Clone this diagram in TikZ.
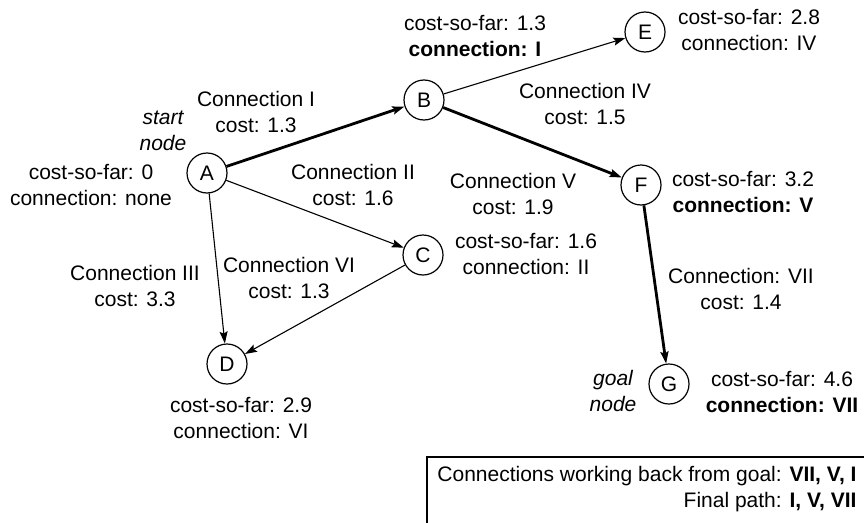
\documentclass[tikz,border=0pt]{standalone}
\usepackage{fontspec}
\setmainfont{Liberation Sans}
\usetikzlibrary{arrows.meta}

\begin{document}
\begin{tikzpicture}[x=1pt, y=-1pt, >={Stealth[length=12pt, width=8pt, inset=2pt]},
        state/.style={draw, circle, line width=1.2pt, minimum size=40pt, inner sep=0pt, font=\fontsize{21}{26}\selectfont},
        info/.style={align=center, font=\fontsize{21}{26}\selectfont},
        remark/.style={align=center, font=\fontsize{21}{26}\selectfont\itshape},
        link/.style={->, line width=1.1pt},
        bestlink/.style={->, line width=2.8pt}]
        % --- 1. Frame (pixel grid of the page) ---
        \useasboundingbox (0,0) rectangle (864,522);

        % --- 2. States ---
        \node[state] (A) at (207,173) {A};
        \node[state] (B) at (424,100) {B};
        \node[state] (C) at (423,255) {C};
        \node[state] (D) at (227,364) {D};
        \node[state] (E) at (645,32) {E};
        \node[state] (F) at (641,185) {F};
        \node[state] (G) at (669,384) {G};

        % --- 3. Connections ---
        \draw[bestlink] (A) -- (B);
        \draw[link] (A) -- (C);
        \draw[link] (A) -- (D);
        \draw[link] (B) -- (E);
        \draw[bestlink] (B) -- (F);
        \draw[link] (C) -- (D);
        \draw[bestlink] (F) -- (G);

        % --- 4. Connection labels ---
        \node[info] (labelI) at (256,112) {Connection I\\cost: 1.3};
        \node[info] (labelII) at (353,184.5) {Connection II\\cost: 1.6};
        \node[info] (labelIII) at (135,286) {Connection III\\cost: 3.3};
        \node[info] (labelIV) at (585,104) {Connection IV\\cost: 1.5};
        \node[info] (labelV) at (513,194) {Connection V\\cost: 1.9};
        \node[info] (labelVI) at (289,278) {Connection VI\\cost: 1.3};
        \node[info] (labelVII) at (741,289) {Connection: VII\\cost: 1.4};

        % --- 5. Node records ---
        \node[info] (recA) at (91,185.5) {cost-so-far: 0\\connection: none};
        \node[info] (recB) at (475,36) {cost-so-far: 1.3\\\textbf{connection: I}};
        \node[info] (recC) at (526,253.5) {cost-so-far: 1.6\\connection: II};
        \node[info] (recD) at (241,418) {cost-so-far: 2.9\\connection: VI};
        \node[info] (recE) at (749,30.5) {cost-so-far: 2.8\\connection: IV};
        \node[info] (recF) at (743,192) {cost-so-far: 3.2\\\textbf{connection: V}};
        \node[info] (recG) at (782,392) {cost-so-far: 4.6\\\textbf{connection: VII}};

        \node[remark] (startNote) at (163,130.5) {start\\node};
        \node[remark] (goalNote) at (613,391) {goal\\node};

        % --- 6. Summary box (runs off the page) ---
        \draw[line width=1.4pt] (427,457) rectangle (880,540);
        \node[info, align=right, anchor=east] (summary) at (860,489)
            {Connections working back from goal: \textbf{VII, V, I}\\Final path: \textbf{I, V, VII}};
    \end{tikzpicture}
\end{document}
